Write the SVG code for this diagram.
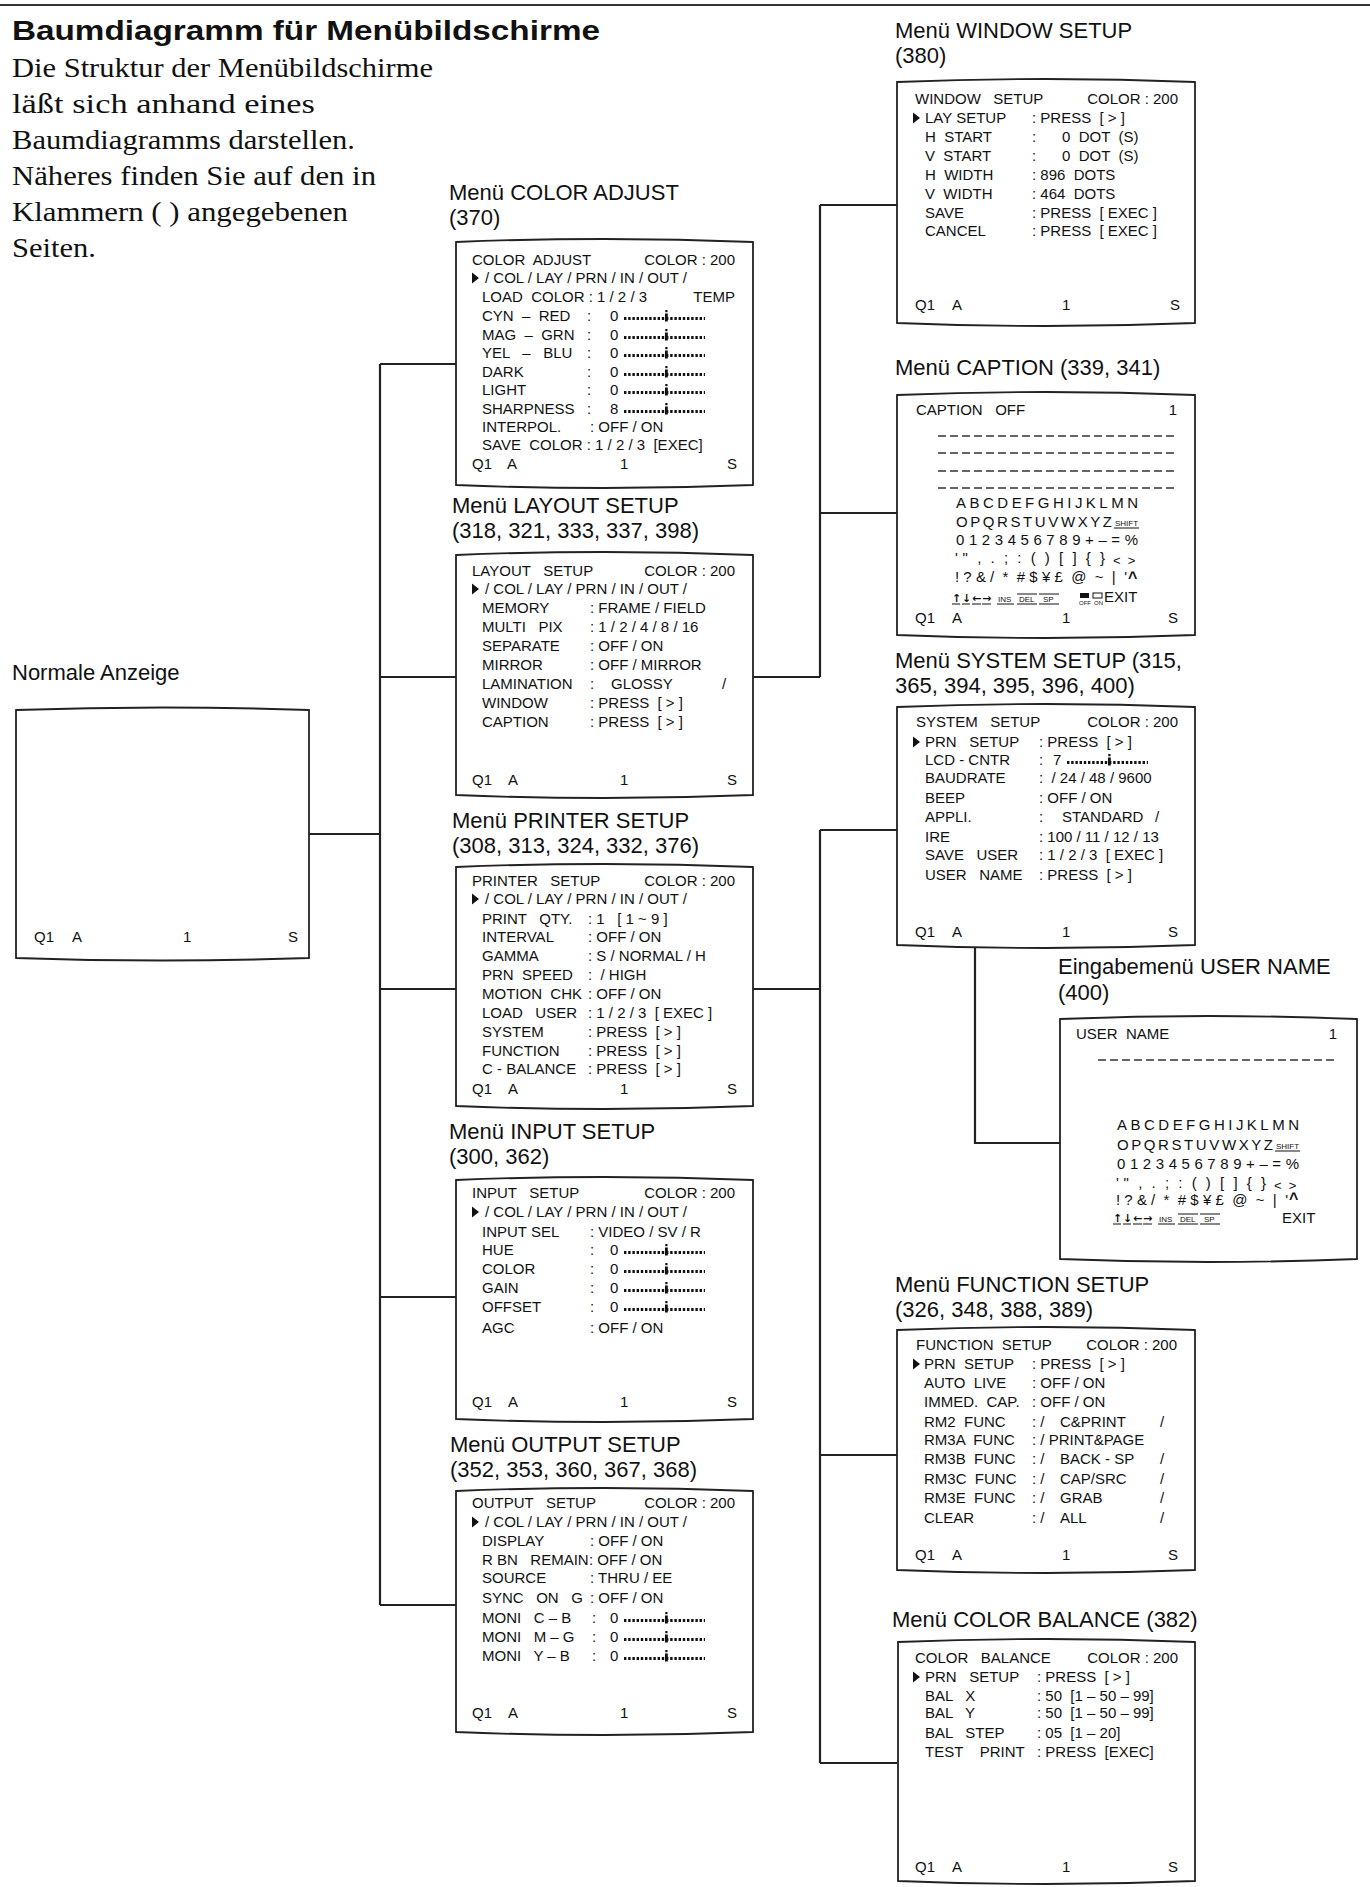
<svg xmlns="http://www.w3.org/2000/svg" xmlns:xlink="http://www.w3.org/1999/xlink" width="1370" height="1887" viewBox="0 0 1370 1887" xml:space="preserve">
<style>
text{font-family:"Liberation Sans",Arial,sans-serif;fill:#111;white-space:pre}
.t{font-size:15px}
.lbl{font-size:22px}
.title{font-size:28px;font-weight:bold}
.body{font-family:"Liberation Serif","Times New Roman",serif;font-size:27px}
.box{fill:#fff;stroke:#222;stroke-width:1.8}
.conn{fill:none;stroke:#222;stroke-width:2.2}
.dl{stroke:#333;stroke-width:1.3;stroke-dasharray:8 4}
.sm{font-size:8px}
.ic{font-family:"DejaVu Sans",sans-serif;font-size:11px;font-weight:bold}
.ul{stroke:#111;stroke-width:1}
.car{font-size:16px;font-weight:bold}
</style>
<defs>
<g id="slider"><line x1="0" y1="-2.5" x2="81" y2="-2.5" stroke="#111" stroke-width="3" stroke-dasharray="2.4 1.8"/><rect x="41" y="-7.5" width="2.8" height="8" fill="#111"/><rect x="41.3" y="-11" width="2.2" height="2.2" fill="#111"/></g>
<path id="tri" d="M0,-10.5 L7,-5 L0,0.5 Z" fill="#111"/>
<g id="icons">
<text class="ic" x="0" y="0">↑</text><line class="ul" x1="0" y1="2" x2="8" y2="2"/>
<text class="ic" x="10" y="0">↓</text><line class="ul" x1="10" y1="2" x2="18" y2="2"/>
<text class="ic" x="20" y="0">←</text><line class="ul" x1="20" y1="2" x2="29" y2="2"/>
<text class="ic" x="30" y="0">→</text><line class="ul" x1="30" y1="2" x2="39" y2="2"/>
<text class="sm" x="46" y="0">INS</text><line class="ul" x1="45" y1="2" x2="62" y2="2"/>
<text class="sm" x="67" y="0">DEL</text><line class="ul" x1="65" y1="-8" x2="85" y2="-8"/><line class="ul" x1="65" y1="2" x2="85" y2="2"/>
<text class="sm" x="91" y="0">SP</text><line class="ul" x1="87" y1="-8" x2="107" y2="-8"/><line class="ul" x1="87" y1="2" x2="107" y2="2"/>
</g>
</defs>

<line x1="0" y1="5" x2="1370" y2="5" stroke="#333" stroke-width="2"/>
<g id="intro">
<text class="title" x="12" y="40" textLength="588" lengthAdjust="spacingAndGlyphs">Baumdiagramm für Menübildschirme</text>
<text class="body" x="12" y="77" textLength="421" lengthAdjust="spacingAndGlyphs">Die Struktur der Menübildschirme</text>
<text class="body" x="12" y="113" textLength="303" lengthAdjust="spacingAndGlyphs">läßt sich anhand eines</text>
<text class="body" x="12" y="149" textLength="343" lengthAdjust="spacingAndGlyphs">Baumdiagramms darstellen.</text>
<text class="body" x="12" y="185" textLength="364" lengthAdjust="spacingAndGlyphs">Näheres finden Sie auf den in</text>
<text class="body" x="12" y="221" textLength="336" lengthAdjust="spacingAndGlyphs">Klammern ( ) angegebenen</text>
<text class="body" x="12" y="257" textLength="84" lengthAdjust="spacingAndGlyphs">Seiten.</text>
</g>

<g id="connectors">
<path class="conn" d="M309,834 H380 M380,364 V1605 M380,364 H456 M380,677 H456 M380,989 H456 M380,1297 H456 M380,1605 H456"/>
<path class="conn" d="M753,677 H820 M820,205 V677 M820,205 H897 M820,513 H897"/>
<path class="conn" d="M753,989 H820 M820,830 V1763 M820,830 H897 M820,1455 H897 M820,1763 H897"/>
<path class="conn" d="M975,947 V1143 H1060"/>
</g>

<g id="normal">
<text class="lbl" x="12" y="680">Normale Anzeige</text>
<path class="box" d="M16,710 Q162,705 309,710 L309,958 Q162,963 16,958 Z"/>
<text class="t" x="34" y="942">Q1</text><text class="t" x="72" y="942">A</text><text class="t" x="183" y="942">1</text><text class="t" x="288" y="942">S</text>
</g>

<g id="color-adjust">
<text class="lbl" x="449" y="200">Menü COLOR ADJUST</text>
<text class="lbl" x="449" y="225">(370)</text>
<path class="box" d="M456,242 Q604,236 753,242 L753,485 Q604,491 456,485 Z"/>
<text class="t" x="472" y="265">COLOR  ADJUST</text><text class="t" x="735" y="265" text-anchor="end">COLOR : 200</text>
<use xlink:href="#tri" x="472" y="283"/><text class="t" x="485" y="283">/ COL / LAY / PRN / IN / OUT /</text>
<text class="t" x="482" y="302">LOAD  COLOR : 1 / 2 / 3</text><text class="t" x="735" y="302" text-anchor="end">TEMP</text>
<text class="t" x="482" y="321">CYN  –  RED</text><text class="t" x="587" y="321">:</text><text class="t" x="610" y="321">0</text><use xlink:href="#slider" x="624" y="321"/>
<text class="t" x="482" y="340">MAG  –  GRN</text><text class="t" x="587" y="340">:</text><text class="t" x="610" y="340">0</text><use xlink:href="#slider" x="624" y="340"/>
<text class="t" x="482" y="358">YEL   –   BLU</text><text class="t" x="587" y="358">:</text><text class="t" x="610" y="358">0</text><use xlink:href="#slider" x="624" y="358"/>
<text class="t" x="482" y="377">DARK</text><text class="t" x="587" y="377">:</text><text class="t" x="610" y="377">0</text><use xlink:href="#slider" x="624" y="377"/>
<text class="t" x="482" y="395">LIGHT</text><text class="t" x="587" y="395">:</text><text class="t" x="610" y="395">0</text><use xlink:href="#slider" x="624" y="395"/>
<text class="t" x="482" y="414">SHARPNESS</text><text class="t" x="587" y="414">:</text><text class="t" x="610" y="414">8</text><use xlink:href="#slider" x="624" y="414"/>
<text class="t" x="482" y="432">INTERPOL.</text><text class="t" x="590" y="432">: OFF / ON</text>
<text class="t" x="482" y="450">SAVE  COLOR : 1 / 2 / 3  [EXEC]</text>
<text class="t" x="472" y="469">Q1</text><text class="t" x="507" y="469">A</text><text class="t" x="620" y="469">1</text><text class="t" x="727" y="469">S</text>
</g>

<g id="layout-setup">
<text class="lbl" x="452" y="513">Menü LAYOUT SETUP</text>
<text class="lbl" x="452" y="538">(318, 321, 333, 337, 398)</text>
<path class="box" d="M456,555 Q604,549 753,555 L753,795 Q604,801 456,795 Z"/>
<text class="t" x="472" y="576">LAYOUT   SETUP</text><text class="t" x="735" y="576" text-anchor="end">COLOR : 200</text>
<use xlink:href="#tri" x="472" y="594"/><text class="t" x="485" y="594">/ COL / LAY / PRN / IN / OUT /</text>
<text class="t" x="482" y="613">MEMORY</text><text class="t" x="590" y="613">: FRAME / FIELD</text>
<text class="t" x="482" y="632">MULTI   PIX</text><text class="t" x="590" y="632">: 1 / 2 / 4 / 8 / 16</text>
<text class="t" x="482" y="651">SEPARATE</text><text class="t" x="590" y="651">: OFF / ON</text>
<text class="t" x="482" y="670">MIRROR</text><text class="t" x="590" y="670">: OFF / MIRROR</text>
<text class="t" x="482" y="689">LAMINATION</text><text class="t" x="590" y="689">:</text><text class="t" x="611" y="689">GLOSSY</text><text class="t" x="722" y="689">/</text>
<text class="t" x="482" y="708">WINDOW</text><text class="t" x="590" y="708">: PRESS  [ &gt; ]</text>
<text class="t" x="482" y="727">CAPTION</text><text class="t" x="590" y="727">: PRESS  [ &gt; ]</text>
<text class="t" x="472" y="785">Q1</text><text class="t" x="508" y="785">A</text><text class="t" x="620" y="785">1</text><text class="t" x="727" y="785">S</text>
</g>

<g id="printer-setup">
<text class="lbl" x="452" y="828">Menü PRINTER SETUP</text>
<text class="lbl" x="452" y="853">(308, 313, 324, 332, 376)</text>
<path class="box" d="M456,867 Q604,861 753,867 L753,1106 Q604,1112 456,1106 Z"/>
<text class="t" x="472" y="886">PRINTER   SETUP</text><text class="t" x="735" y="886" text-anchor="end">COLOR : 200</text>
<use xlink:href="#tri" x="472" y="904"/><text class="t" x="485" y="904">/ COL / LAY / PRN / IN / OUT /</text>
<text class="t" x="482" y="924">PRINT   QTY.</text><text class="t" x="588" y="924">: 1   [ 1 ~ 9 ]</text>
<text class="t" x="482" y="942">INTERVAL</text><text class="t" x="588" y="942">: OFF / ON</text>
<text class="t" x="482" y="961">GAMMA</text><text class="t" x="588" y="961">: S / NORMAL / H</text>
<text class="t" x="482" y="980">PRN  SPEED</text><text class="t" x="588" y="980">:  / HIGH</text>
<text class="t" x="482" y="999">MOTION  CHK</text><text class="t" x="588" y="999">: OFF / ON</text>
<text class="t" x="482" y="1018">LOAD   USER</text><text class="t" x="588" y="1018">: 1 / 2 / 3  [ EXEC ]</text>
<text class="t" x="482" y="1037">SYSTEM</text><text class="t" x="588" y="1037">: PRESS  [ &gt; ]</text>
<text class="t" x="482" y="1056">FUNCTION</text><text class="t" x="588" y="1056">: PRESS  [ &gt; ]</text>
<text class="t" x="482" y="1074">C - BALANCE</text><text class="t" x="588" y="1074">: PRESS  [ &gt; ]</text>
<text class="t" x="472" y="1094">Q1</text><text class="t" x="508" y="1094">A</text><text class="t" x="620" y="1094">1</text><text class="t" x="727" y="1094">S</text>
</g>

<g id="input-setup">
<text class="lbl" x="449" y="1139">Menü INPUT SETUP</text>
<text class="lbl" x="449" y="1164">(300, 362)</text>
<path class="box" d="M456,1180 Q604,1174 753,1180 L753,1419 Q604,1425 456,1419 Z"/>
<text class="t" x="472" y="1198">INPUT   SETUP</text><text class="t" x="735" y="1198" text-anchor="end">COLOR : 200</text>
<use xlink:href="#tri" x="472" y="1217"/><text class="t" x="485" y="1217">/ COL / LAY / PRN / IN / OUT /</text>
<text class="t" x="482" y="1237">INPUT SEL</text><text class="t" x="590" y="1237">: VIDEO / SV / R</text>
<text class="t" x="482" y="1255">HUE</text><text class="t" x="590" y="1255">:</text><text class="t" x="610" y="1255">0</text><use xlink:href="#slider" x="624" y="1255"/>
<text class="t" x="482" y="1274">COLOR</text><text class="t" x="590" y="1274">:</text><text class="t" x="610" y="1274">0</text><use xlink:href="#slider" x="624" y="1274"/>
<text class="t" x="482" y="1293">GAIN</text><text class="t" x="590" y="1293">:</text><text class="t" x="610" y="1293">0</text><use xlink:href="#slider" x="624" y="1293"/>
<text class="t" x="482" y="1312">OFFSET</text><text class="t" x="590" y="1312">:</text><text class="t" x="610" y="1312">0</text><use xlink:href="#slider" x="624" y="1312"/>
<text class="t" x="482" y="1333">AGC</text><text class="t" x="590" y="1333">: OFF / ON</text>
<text class="t" x="472" y="1407">Q1</text><text class="t" x="508" y="1407">A</text><text class="t" x="620" y="1407">1</text><text class="t" x="727" y="1407">S</text>
</g>

<g id="output-setup">
<text class="lbl" x="450" y="1452">Menü OUTPUT SETUP</text>
<text class="lbl" x="450" y="1477">(352, 353, 360, 367, 368)</text>
<path class="box" d="M456,1491 Q604,1485 753,1491 L753,1732 Q604,1738 456,1732 Z"/>
<text class="t" x="472" y="1508">OUTPUT   SETUP</text><text class="t" x="735" y="1508" text-anchor="end">COLOR : 200</text>
<use xlink:href="#tri" x="472" y="1527"/><text class="t" x="485" y="1527">/ COL / LAY / PRN / IN / OUT /</text>
<text class="t" x="482" y="1546">DISPLAY</text><text class="t" x="590" y="1546">: OFF / ON</text>
<text class="t" x="482" y="1565">R BN   REMAIN</text><text class="t" x="589" y="1565">: OFF / ON</text>
<text class="t" x="482" y="1583">SOURCE</text><text class="t" x="590" y="1583">: THRU / EE</text>
<text class="t" x="482" y="1603">SYNC   ON   G</text><text class="t" x="590" y="1603">: OFF / ON</text>
<text class="t" x="482" y="1623">MONI   C – B</text><text class="t" x="592" y="1623">:</text><text class="t" x="610" y="1623">0</text><use xlink:href="#slider" x="624" y="1623"/>
<text class="t" x="482" y="1642">MONI   M – G</text><text class="t" x="592" y="1642">:</text><text class="t" x="610" y="1642">0</text><use xlink:href="#slider" x="624" y="1642"/>
<text class="t" x="482" y="1661">MONI   Y – B</text><text class="t" x="592" y="1661">:</text><text class="t" x="610" y="1661">0</text><use xlink:href="#slider" x="624" y="1661"/>
<text class="t" x="472" y="1718">Q1</text><text class="t" x="508" y="1718">A</text><text class="t" x="620" y="1718">1</text><text class="t" x="727" y="1718">S</text>
</g>

<g id="window-setup">
<text class="lbl" x="895" y="38">Menü WINDOW SETUP</text>
<text class="lbl" x="895" y="63">(380)</text>
<path class="box" d="M897,82 Q1046,76 1195,82 L1195,323 Q1046,329 897,323 Z"/>
<text class="t" x="915" y="104">WINDOW   SETUP</text><text class="t" x="1178" y="104" text-anchor="end">COLOR : 200</text>
<use xlink:href="#tri" x="913" y="123"/><text class="t" x="925" y="123">LAY SETUP</text><text class="t" x="1032" y="123">: PRESS  [ &gt; ]</text>
<text class="t" x="925" y="142">H  START</text><text class="t" x="1032" y="142">:</text><text class="t" x="1062" y="142">0  DOT  (S)</text>
<text class="t" x="925" y="161">V  START</text><text class="t" x="1032" y="161">:</text><text class="t" x="1062" y="161">0  DOT  (S)</text>
<text class="t" x="925" y="180">H  WIDTH</text><text class="t" x="1032" y="180">: 896  DOTS</text>
<text class="t" x="925" y="199">V  WIDTH</text><text class="t" x="1032" y="199">: 464  DOTS</text>
<text class="t" x="925" y="218">SAVE</text><text class="t" x="1032" y="218">: PRESS  [ EXEC ]</text>
<text class="t" x="925" y="236">CANCEL</text><text class="t" x="1032" y="236">: PRESS  [ EXEC ]</text>
<text class="t" x="915" y="310">Q1</text><text class="t" x="952" y="310">A</text><text class="t" x="1062" y="310">1</text><text class="t" x="1170" y="310">S</text>
</g>

<g id="caption">
<text class="lbl" x="895" y="375">Menü CAPTION (339, 341)</text>
<path class="box" d="M897,395 Q1046,389 1195,395 L1195,635 Q1046,641 897,635 Z"/>
<text class="t" x="916" y="415">CAPTION   OFF</text><text class="t" x="1177" y="415" text-anchor="end">1</text>
<line class="dl" x1="938" y1="436" x2="1174" y2="436"/>
<line class="dl" x1="938" y1="453" x2="1174" y2="453"/>
<line class="dl" x1="938" y1="471" x2="1174" y2="471"/>
<line class="dl" x1="938" y1="488" x2="1174" y2="488"/>
<text class="t" x="956" y="508" textLength="182" lengthAdjust="spacing">ABCDEFGHIJKLMN</text>
<text class="t" x="956" y="527" textLength="156" lengthAdjust="spacing">OPQRSTUVWXYZ</text><text class="sm" x="1115" y="526">SHIFT</text><line class="ul" x1="1114" y1="528" x2="1139" y2="528"/>
<text class="t" x="956" y="545" textLength="182" lengthAdjust="spacing">0123456789+–=%</text>
<text class="t" x="955" y="563" textLength="150" lengthAdjust="spacing">' "  ,  .  ;  :  (  )  [  ]  {  }</text><text class="t" x="1113" y="565" style="font-size:13px">&lt;  &gt;</text>
<text class="t" x="955" y="582" textLength="172" lengthAdjust="spacing">! ? &amp; /  *  # $ ¥ £  @  ~  |  '</text><text class="car" x="1128" y="583">^</text>
<use xlink:href="#icons" x="952" y="602"/>
<rect x="1080" y="593" width="9" height="5" fill="#111"/><text x="1079" y="605" style="font-size:6px">OFF</text>
<rect x="1093" y="593" width="9" height="5" fill="none" stroke="#111" stroke-width="1"/><text x="1094" y="605" style="font-size:6px">ON</text>
<text class="t" x="1104" y="602">EXIT</text>
<text class="t" x="915" y="623">Q1</text><text class="t" x="952" y="623">A</text><text class="t" x="1062" y="623">1</text><text class="t" x="1168" y="623">S</text>
</g>

<g id="system-setup">
<text class="lbl" x="895" y="668">Menü SYSTEM SETUP (315,</text>
<text class="lbl" x="895" y="693">365, 394, 395, 396, 400)</text>
<path class="box" d="M897,707 Q1046,701 1195,707 L1195,945 Q1046,951 897,945 Z"/>
<text class="t" x="916" y="727">SYSTEM   SETUP</text><text class="t" x="1178" y="727" text-anchor="end">COLOR : 200</text>
<use xlink:href="#tri" x="913" y="747"/><text class="t" x="925" y="747">PRN   SETUP</text><text class="t" x="1039" y="747">: PRESS  [ &gt; ]</text>
<text class="t" x="925" y="765">LCD - CNTR</text><text class="t" x="1039" y="765">:</text><text class="t" x="1053" y="765">7</text><use xlink:href="#slider" x="1067" y="765"/>
<text class="t" x="925" y="783">BAUDRATE</text><text class="t" x="1039" y="783">:  / 24 / 48 / 9600</text>
<text class="t" x="925" y="803">BEEP</text><text class="t" x="1039" y="803">: OFF / ON</text>
<text class="t" x="925" y="822">APPLI.</text><text class="t" x="1039" y="822">:</text><text class="t" x="1062" y="822">STANDARD</text><text class="t" x="1155" y="822">/</text>
<text class="t" x="925" y="842">IRE</text><text class="t" x="1039" y="842">: 100 / 11 / 12 / 13</text>
<text class="t" x="925" y="860">SAVE   USER</text><text class="t" x="1039" y="860">: 1 / 2 / 3  [ EXEC ]</text>
<text class="t" x="925" y="880">USER   NAME</text><text class="t" x="1039" y="880">: PRESS  [ &gt; ]</text>
<text class="t" x="915" y="937">Q1</text><text class="t" x="952" y="937">A</text><text class="t" x="1062" y="937">1</text><text class="t" x="1168" y="937">S</text>
</g>

<g id="user-name">
<text class="lbl" x="1058" y="974">Eingabemenü USER NAME</text>
<text class="lbl" x="1058" y="1000">(400)</text>
<path class="box" d="M1060,1019 Q1208,1013 1357,1019 L1357,1259 Q1208,1265 1060,1259 Z"/>
<text class="t" x="1076" y="1039">USER  NAME</text><text class="t" x="1337" y="1039" text-anchor="end">1</text>
<line class="dl" x1="1098" y1="1060" x2="1334" y2="1060"/>
<text class="t" x="1117" y="1130" textLength="182" lengthAdjust="spacing">ABCDEFGHIJKLMN</text>
<text class="t" x="1117" y="1150" textLength="156" lengthAdjust="spacing">OPQRSTUVWXYZ</text><text class="sm" x="1276" y="1149">SHIFT</text><line class="ul" x1="1275" y1="1151" x2="1300" y2="1151"/>
<text class="t" x="1117" y="1169" textLength="182" lengthAdjust="spacing">0123456789+–=%</text>
<text class="t" x="1116" y="1188" textLength="150" lengthAdjust="spacing">' "  ,  .  ;  :  (  )  [  ]  {  }</text><text class="t" x="1274" y="1190" style="font-size:13px">&lt;  &gt;</text>
<text class="t" x="1116" y="1205" textLength="172" lengthAdjust="spacing">! ? &amp; /  *  # $ ¥ £  @  ~  |  '</text><text class="car" x="1289" y="1204">^</text>
<use xlink:href="#icons" x="1113" y="1222"/>
<text class="t" x="1282" y="1223">EXIT</text>
</g>

<g id="function-setup">
<text class="lbl" x="895" y="1292">Menü FUNCTION SETUP</text>
<text class="lbl" x="895" y="1317">(326, 348, 388, 389)</text>
<path class="box" d="M897,1330 Q1046,1324 1195,1330 L1195,1570 Q1046,1576 897,1570 Z"/>
<text class="t" x="916" y="1350">FUNCTION  SETUP</text><text class="t" x="1177" y="1350" text-anchor="end">COLOR : 200</text>
<use xlink:href="#tri" x="913" y="1369"/><text class="t" x="924" y="1369">PRN  SETUP</text><text class="t" x="1032" y="1369">: PRESS  [ &gt; ]</text>
<text class="t" x="924" y="1388">AUTO  LIVE</text><text class="t" x="1032" y="1388">: OFF / ON</text>
<text class="t" x="924" y="1407">IMMED.  CAP.</text><text class="t" x="1032" y="1407">: OFF / ON</text>
<text class="t" x="924" y="1427">RM2  FUNC</text><text class="t" x="1032" y="1427">: /</text><text class="t" x="1060" y="1427">C&amp;PRINT</text><text class="t" x="1160" y="1427">/</text>
<text class="t" x="924" y="1445">RM3A  FUNC</text><text class="t" x="1032" y="1445">: / PRINT&amp;PAGE</text>
<text class="t" x="924" y="1464">RM3B  FUNC</text><text class="t" x="1032" y="1464">: /</text><text class="t" x="1060" y="1464">BACK - SP</text><text class="t" x="1160" y="1464">/</text>
<text class="t" x="924" y="1484">RM3C  FUNC</text><text class="t" x="1032" y="1484">: /</text><text class="t" x="1060" y="1484">CAP/SRC</text><text class="t" x="1160" y="1484">/</text>
<text class="t" x="924" y="1503">RM3E  FUNC</text><text class="t" x="1032" y="1503">: /</text><text class="t" x="1060" y="1503">GRAB</text><text class="t" x="1160" y="1503">/</text>
<text class="t" x="924" y="1523">CLEAR</text><text class="t" x="1032" y="1523">: /</text><text class="t" x="1060" y="1523">ALL</text><text class="t" x="1160" y="1523">/</text>
<text class="t" x="915" y="1560">Q1</text><text class="t" x="952" y="1560">A</text><text class="t" x="1062" y="1560">1</text><text class="t" x="1168" y="1560">S</text>
</g>

<g id="color-balance">
<text class="lbl" x="892" y="1627">Menü COLOR BALANCE (382)</text>
<path class="box" d="M898,1642 Q1046,1636 1195,1642 L1195,1881 Q1046,1887 898,1881 Z"/>
<text class="t" x="915" y="1663">COLOR   BALANCE</text><text class="t" x="1178" y="1663" text-anchor="end">COLOR : 200</text>
<use xlink:href="#tri" x="913" y="1682"/><text class="t" x="925" y="1682">PRN   SETUP</text><text class="t" x="1037" y="1682">: PRESS  [ &gt; ]</text>
<text class="t" x="925" y="1701">BAL   X</text><text class="t" x="1037" y="1701">: 50  [1 – 50 – 99]</text>
<text class="t" x="925" y="1718">BAL   Y</text><text class="t" x="1037" y="1718">: 50  [1 – 50 – 99]</text>
<text class="t" x="925" y="1738">BAL   STEP</text><text class="t" x="1037" y="1738">: 05  [1 – 20]</text>
<text class="t" x="925" y="1757">TEST    PRINT</text><text class="t" x="1037" y="1757">: PRESS  [EXEC]</text>
<text class="t" x="915" y="1872">Q1</text><text class="t" x="952" y="1872">A</text><text class="t" x="1062" y="1872">1</text><text class="t" x="1168" y="1872">S</text>
</g>
</svg>
